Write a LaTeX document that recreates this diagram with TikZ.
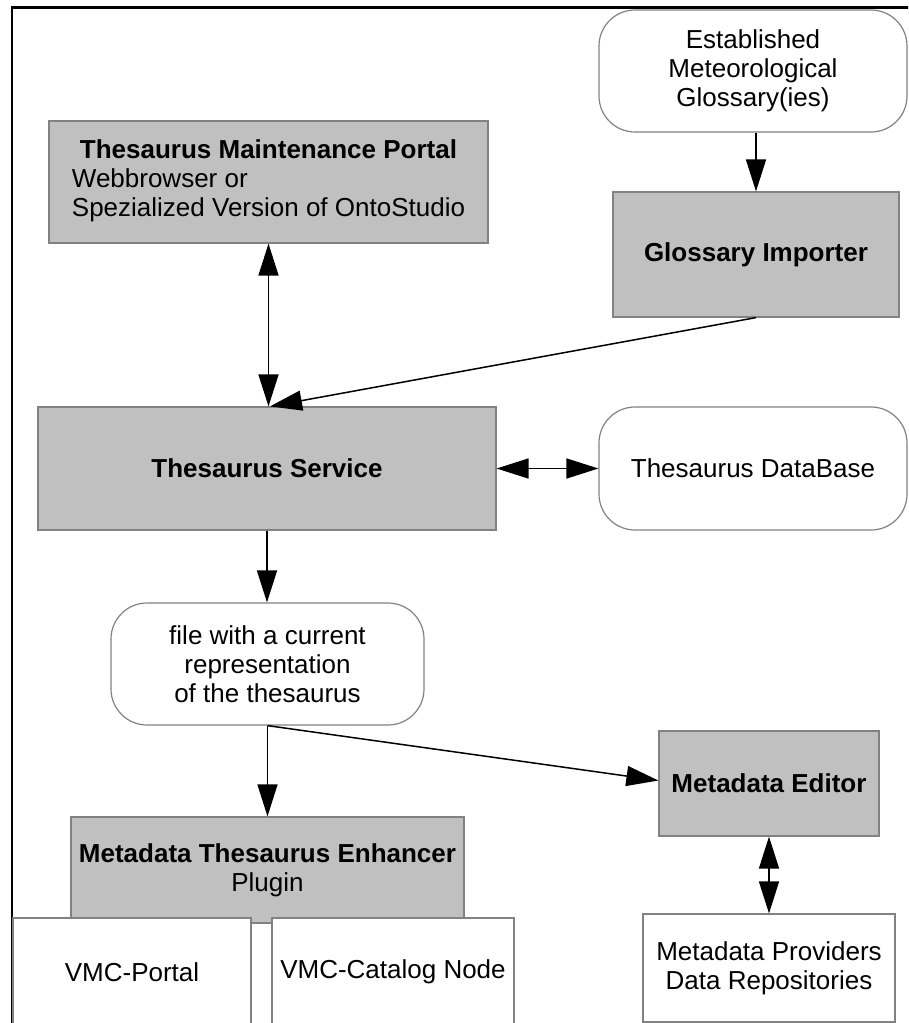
\documentclass[tikz,border=0pt]{standalone}
\usepackage{fontspec}
\setmainfont{Liberation Sans}
\usetikzlibrary{arrows.meta}
\definecolor{boxgray}{RGB}{192,192,192}
\definecolor{edgegray}{RGB}{130,130,130}
\begin{document}
\begin{tikzpicture}[x=1pt,y=-1pt,
  base/.style={draw=edgegray, line width=1.2pt, inner sep=0pt, align=center, font=\fontsize{26}{29}\selectfont},
  graybox/.style={base, fill=boxgray, rectangle},
  roundbox/.style={base, fill=white, rounded corners=36pt},
  whitebox/.style={base, fill=white},
  conn/.style={line width=1.5pt, draw=black},
  >={Triangle[length=32pt,width=20pt]}]
\clip (0,0) rectangle (908,1023);
\fill[white] (0,0) rectangle (908,1023);
\draw[line width=2.5pt] (12,1030) -- (12,7.5) -- (915,7.5);

\node[roundbox, minimum width=308pt, minimum height=122pt] (est) at (753,71) {Established\\Meteorological\\Glossary(ies)};
\node[graybox, minimum width=439pt, minimum height=122pt] (tmp) at (268.5,182) {\begin{tabular}{@{}l@{}}\multicolumn{1}{@{}c@{}}{\textbf{Thesaurus Maintenance Portal}}\\Webbrowser or\\Spezialized Version of OntoStudio\end{tabular}};
\node[graybox, minimum width=286pt, minimum height=125pt] (gi) at (756,254.5) {\textbf{Glossary Importer}};
\node[graybox, minimum width=458pt, minimum height=123pt] (ts) at (267,468.5) {\textbf{Thesaurus Service}};
\node[roundbox, minimum width=308pt, minimum height=123pt] (tdb) at (753,468.5) {Thesaurus DataBase};
\node[roundbox, minimum width=313pt, minimum height=122pt] (file) at (267.5,664) {file with a current\\representation\\of the thesaurus};
\node[graybox, minimum width=220pt, minimum height=105pt] (me) at (769,783.5) {\textbf{Metadata Editor}};
\node[graybox, minimum width=393pt, minimum height=106pt] (mte) at (267.5,870) {\textbf{Metadata Thesaurus Enhancer}\\Plugin};
\node[whitebox, minimum width=238pt, minimum height=108pt] (vp) at (132,972) {VMC-Portal};
\node[whitebox, minimum width=242pt, minimum height=108pt] (vc) at (393,972) {VMC-Catalog Node};
\node[whitebox, minimum width=252pt, minimum height=108pt] (mp) at (769,968) {Metadata Providers\\Data Repositories};

\draw[conn,->] (est.south -| gi.north) -- (gi.north);
\draw[conn,<->] (tmp.south) -- (tmp.south |- ts.north);
\draw[conn,->] (gi.south) -- ([xshift=3pt]ts.north);
\draw[conn,<->] (ts.east) -- (tdb.west);
\draw[conn,->] (ts.south) -- (ts.south |- file.north);
\draw[conn,->] (file.south) -- (file.south |- mte.north);
\draw[conn,->] (file.south) -- ([yshift=3pt]me.west);
\draw[conn,<->] (me.south) -- (me.south |- mp.north);
\end{tikzpicture}
\end{document}
